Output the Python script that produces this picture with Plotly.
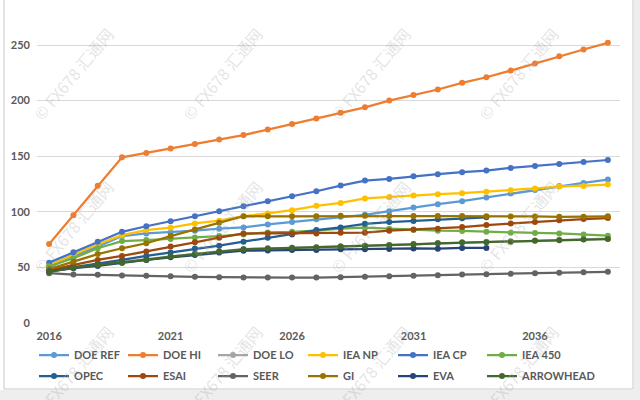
import plotly.graph_objects as go

years = list(range(2016, 2040))

series_names = ["DOE REF", "DOE HI", "DOE LO", "IEA NP", "IEA CP", "IEA 450",
                "OPEC", "ESAI", "SEER", "GI", "EVA", "ARROWHEAD"]

doe_ref = [50, 60, 68.7, 78.2, 80.6, 81.5, 83, 84.8, 86, 88.7, 90.8, 93.2,
           95.5, 97.3, 100.6, 103.9, 106.9, 109.6, 112.9, 116.5, 119.7, 123.3, 126, 129]
doe_hi = [71, 97, 123.5, 149, 153, 157, 161, 165, 169, 174, 179, 184,
          189, 194, 200, 205, 210, 216, 221, 227, 233.5, 240, 246, 252]
doe_lo = [46.5, 49.5, 52.5, 55, 57.5, 60, 62.5, 64.5, 66.5, 67.3, 68, 68.3,
          69, 69.6, 70.3, 71.2, 72, 72.6, 73, 73.5, 74.3, 74.8, 75.3, 75.8]
iea_np = [52, 61.5, 70.8, 79, 83.6, 85.7, 89.6, 92, 96.1, 98.5, 101.5, 105.4,
          108, 112, 113.4, 114.7, 115.9, 116.8, 118, 119.4, 121, 122.7, 123.3, 124.5]
iea_cp = [54.3, 63.6, 73, 82, 87, 91.4, 96, 100.6, 105, 109.6, 114, 118.5,
          123.6, 128.1, 129.6, 132, 133.8, 135.6, 137.1, 139.5, 141.3, 143.1, 144.9, 146.6]
iea_450 = [51, 58.2, 67.2, 73.7, 74.6, 75.5, 77, 78.2, 79.7, 81.5, 82, 83,
           84.8, 85.7, 84.8, 83.6, 83, 82.8, 82, 81.2, 81, 80.6, 79.7, 78.5]
opec = [47, 50.2, 53.1, 56.7, 60.3, 63.3, 66.9, 69.5, 73.1, 76.7, 79.7, 83.6,
        86, 89.2, 90.8, 91.7, 93.2, 94.1, 95, None, None, None, None, None]
esai = [47.5, 52.2, 56.7, 60.3, 64.2, 68.7, 72.6, 76.7, 80.6, 80.6, 80.6, 80.6,
        81.2, 81.2, 83, 84.2, 84.8, 86.3, 88.1, 89.6, 90.8, 92.3, 93.5, 94.4]
seer = [44.8, 43.6, 43.3, 42.7, 42.4, 42.1, 41.5, 41.2, 40.9, 40.9, 40.9, 40.9,
        41.2, 41.5, 42.1, 42.4, 43, 43.6, 43.9, 44.2, 44.8, 45.1, 45.7, 46]
gi = [48.5, 55, 62, 67.2, 71.7, 78.2, 84.2, 90.1, 96.1, 95.9, 96, 96,
      96.5, 96.5, 96.2, 96.2, 96.2, 96.2, 96, 95.8, 95.8, 95.5, 95.5, 96]
eva = [46.5, 49.3, 51.3, 54.3, 56.7, 59.1, 61.2, 63.3, 65, 65.3, 65.6, 65.6,
       66.3, 66.3, 66.6, 67, 66.8, 67.5, 67.5, None, None, None, None, None]
arrowhead = [46, 49.7, 52.2, 54.3, 56.7, 59.7, 62.1, 64.2, 66.3, 66.9, 67.5, 67.8,
             68.7, 69.2, 69.9, 70.8, 71.7, 72.3, 72.6, 73.1, 74, 74.4, 75, 75.5]

series_values = [doe_ref, doe_hi, doe_lo, iea_np, iea_cp, iea_450,
                 opec, esai, seer, gi, eva, arrowhead]
colors = ["#5B9BD5", "#ED7D31", "#A5A5A5", "#FFC000", "#4472C4", "#70AD47",
          "#255E91", "#9E480E", "#636363", "#997300", "#264478", "#43682B"]

x_tick_vals = [2016, 2021, 2026, 2031, 2036]
x_tick_text = ["2016", "2021", "2026", "2031", "2036"]
y_tick_vals = [0, 50, 100, 150, 200, 250]

W, H = 640, 400
# plot area: x 37..620 px, y 0..323 px
L, R, T, B = 37, 20, 0, 77
pw, ph = W - L - R, H - T - B

def px(x):
    return (x - L) / pw

def py(y):
    return (H - B - y) / ph

fig = go.Figure()
legend_keys = []
for i, (name, vals, col) in enumerate(zip(series_names, series_values, colors)):
    key = "legend" if i == 0 else f"legend{i + 1}"
    legend_keys.append(key)
    fig.add_trace(go.Scatter(
        x=years, y=vals, name=name, mode="lines+markers",
        line=dict(color=col, width=2.25),
        marker=dict(color=col, size=6),
        connectgaps=False,
        legend=key,
    ))

shapes = [
    dict(type="rect", xref="paper", yref="paper", x0=px(-5), x1=px(645), y0=py(390), y1=py(405),
         fillcolor="#eeeeee", line=dict(width=0), layer="below"),
    dict(type="rect", xref="paper", yref="paper", x0=px(634), x1=px(645), y0=py(-5), y1=py(405),
         fillcolor="#eeeeee", line=dict(width=0), layer="below"),
    dict(type="rect", xref="paper", yref="paper", x0=px(4), x1=px(633), y0=py(-10), y1=py(389),
         fillcolor="rgba(0,0,0,0)", line=dict(color="#c8c8c8", width=1), layer="below"),
]

annotations = []
for cy in [74, 227, 372]:
    for cx in [73, 222, 370, 518]:
        annotations.append(dict(
            x=px(cx), y=py(cy), xref="paper", yref="paper", showarrow=False,
            text="© FX678 汇通网", textangle=-50,
            font=dict(family="Noto Sans CJK SC, DejaVu Sans", size=16, color="rgba(170,170,170,0.33)"),
            xanchor="center", yanchor="middle",
        ))

legend_text_x = [74, 163, 253, 343, 433, 522]
legend_row_y = [355, 376]
TEXT_OFFSET = 40
legends = {}
for i, key in enumerate(legend_keys):
    col, row = i % 6, i // 6
    legends[key] = dict(
        xref="container", yref="container",
        x=(legend_text_x[col] - TEXT_OFFSET) / W, y=1 - legend_row_y[row] / H,
        xanchor="left", yanchor="middle", itemwidth=30,
        font=dict(family="Lato", size=11, color="#595959", weight="bold"),
        bgcolor="rgba(0,0,0,0)", borderwidth=0,
    )

fig.update_layout(
    width=W, height=H,
    margin=dict(l=L, r=R, t=T, b=B, autoexpand=False),
    paper_bgcolor="white", plot_bgcolor="white",
    font=dict(family="Lato, Liberation Sans, sans-serif", size=11, color="#595959"),
    xaxis=dict(range=[2015.5, 2039.5], tickvals=x_tick_vals, ticktext=x_tick_text,
               showgrid=False, zeroline=False, showline=False, ticks="", ticklabelstandoff=5,
               tickfont=dict(family="Lato", size=11, color="#595959", weight="bold")),
    yaxis=dict(range=[0, 290.5], tickvals=y_tick_vals, showgrid=True, gridcolor="#d9d9d9",
               gridwidth=1, zeroline=False, showline=False, ticks="", ticklabelstandoff=6,
               tickfont=dict(family="Lato", size=11, color="#595959", weight="bold")),
    shapes=shapes,
    annotations=annotations,
    showlegend=True,
    **legends,
)

fig.write_html("out.html", config={"displayModeBar": False},
               post_script="document.body.style.margin='0';document.body.style.overflow='hidden';")
